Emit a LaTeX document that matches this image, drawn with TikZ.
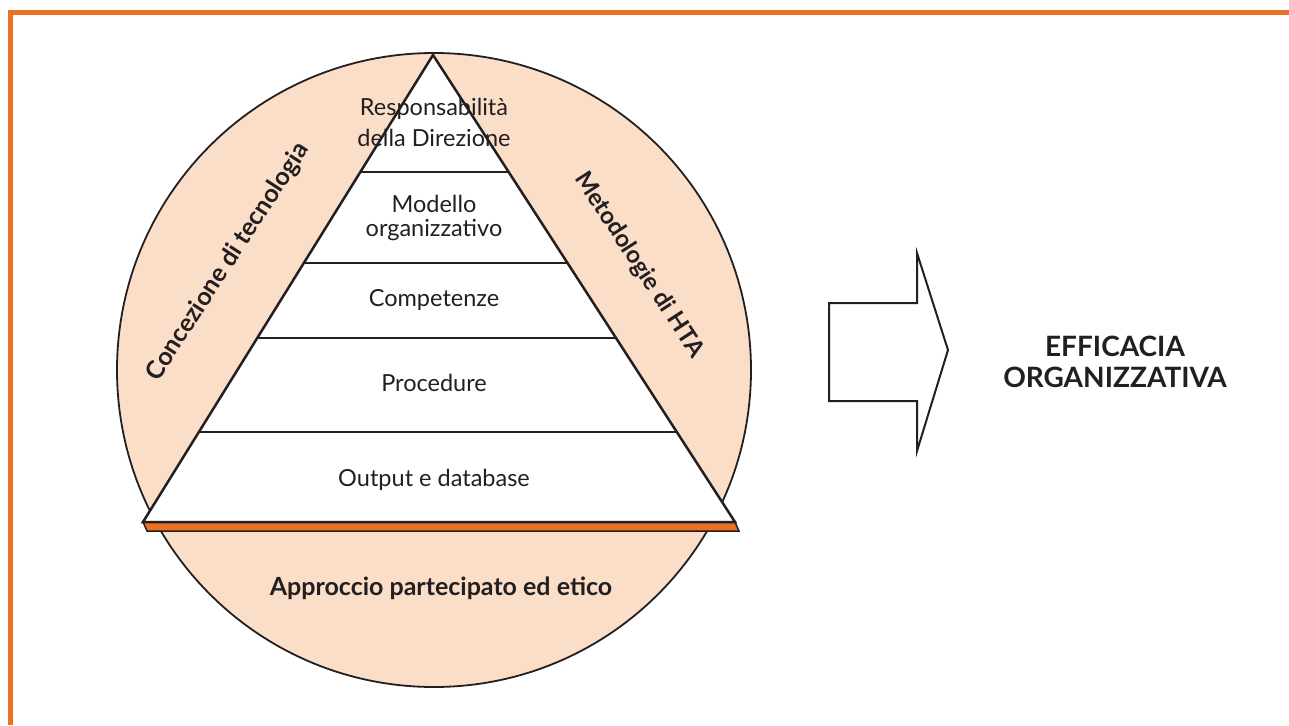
\documentclass[tikz,border=0pt]{standalone}
\usepackage{fontspec}
\setmainfont{Lato}
\usetikzlibrary{calc}
\definecolor{peach}{HTML}{FBDEC8}
\definecolor{frameorange}{HTML}{EC7023}
\definecolor{ink}{HTML}{231F20}
\begin{document}
\begin{tikzpicture}[x=1pt,y=-1pt,line join=miter,
  layer/.style={font=\fontsize{23.5}{24}\selectfont, text=ink, align=center, inner sep=0pt},
  boldlab/.style={font=\fontsize{25}{26}\selectfont\bfseries, text=ink, inner sep=0pt},
  sep/.style={draw=ink, line width=2pt}]
\useasboundingbox (0,0) rectangle (1289,725);
% frame
\draw[frameorange, line width=5pt] (8,12.5) -- (1289,12.5);
\draw[frameorange, line width=5pt] (10.5,10) -- (10.5,725);
% circle
\draw[draw=ink, fill=peach, line width=1.8pt] (434,370) circle [radius=317];
% triangle
\coordinate (apex) at (433,55);
\coordinate (bl) at (143,522);
\coordinate (br) at (735,522);
\draw[draw=ink, fill=frameorange, line width=1.5pt] (bl) -- (br) -- (739,531) -- (147,531) -- cycle;
\draw[draw=ink, fill=white, line width=2.5pt] (apex) -- (br) -- (bl) -- cycle;
\foreach \t in {0.2505,0.4454,0.606,0.8073}{
  \draw[sep] ($(apex)!\t!(bl)$) -- ($(apex)!\t!(br)$);
}
% layer labels
\node[layer, font=\fontsize{23.5}{31}\selectfont] (resp) at (434,122) {Responsabilità\\della Direzione};
\node[layer, font=\fontsize{23.5}{24}\selectfont] (mod) at (434,218) {Modello\\organizzativo};
\node[layer] (comp) at (434,300) {Competenze};
\node[layer] (proc) at (434,383) {Procedure};
\node[layer] (out) at (434,480) {Output e database};
% ring labels
\node[boldlab, rotate=57] (conc) at (228,262) {Concezione di tecnologia};
\node[boldlab, font=\fontsize{24}{26}\selectfont\bfseries, rotate=-57] (meto) at (639,265) {Metodologie di HTA};
\node[boldlab] (appr) at (441,588) {Approccio partecipato ed etico};
% arrow
\draw[draw=ink, fill=white, line width=2pt]
  (829,303) -- (917,303) -- (917,253) -- (948,350) -- (917,451) -- (917,401) -- (829,401) -- cycle;
\node[font=\fontsize{28}{31}\selectfont\bfseries, text=ink, align=center, inner sep=0pt] (eff) at (1115,362) {EFFICACIA\\ORGANIZZATIVA};
\end{tikzpicture}
\end{document}
